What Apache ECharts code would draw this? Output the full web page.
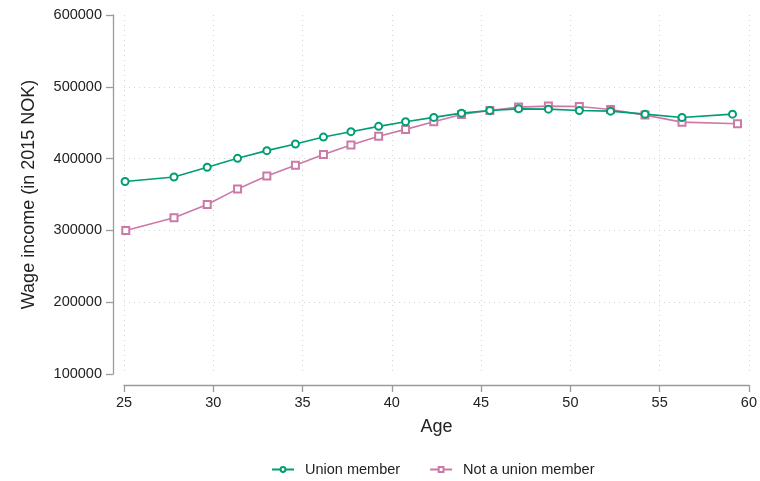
<!DOCTYPE html>
<html>
<head>
<meta charset="utf-8">
<script src="https://cdn.jsdelivr.net/npm/echarts@6/dist/echarts.min.js"></script>
<style>
html,body{margin:0;padding:0;background:#fff;}
#chart{width:760px;height:481px;}
</style>
</head>
<body>
<div id="chart"></div>
<script>
var seriesNames = ['Union member', 'Not a union member'];
var unionAge = [25.06, 27.8, 29.66, 31.36, 33.0, 34.6, 36.17, 37.71, 39.26, 40.77, 42.35, 43.9, 45.49, 47.1, 48.77, 50.5, 52.25, 54.18, 56.25, 59.08];
var unionWage = [368100, 374400, 387900, 400400, 411100, 420300, 430000, 437500, 444900, 451400, 457400, 463300, 467000, 469300, 468900, 467000, 466100, 461900, 457200, 461900];
var nonUnionAge = [25.1, 27.8, 29.66, 31.36, 33.0, 34.6, 36.17, 37.71, 39.26, 40.77, 42.35, 43.9, 45.49, 47.1, 48.77, 50.5, 52.25, 54.18, 56.25, 59.36];
var nonUnionWage = [300000, 317500, 336100, 357800, 375800, 390700, 405600, 418900, 431000, 440700, 451400, 461400, 467000, 471700, 473100, 472500, 468300, 460600, 450800, 448500];

function pairs(xs, ys) { return xs.map(function (x, i) { return [x, ys[i]]; }); }

var FONT = '"Liberation Sans", Arial, Helvetica, sans-serif';
var TXT = '#222222';
var AXIS = '#9a9a9a';
var GRID = '#d4d4d4';

var chart = echarts.init(document.getElementById('chart'), null, {renderer: 'canvas'});
chart.setOption({
  animation: false,
  backgroundColor: '#ffffff',
  textStyle: {fontFamily: FONT},
  grid: {left: 124, right: 11, top: 15, bottom: 107, containLabel: false},
  legend: {
    left: 266, top: 457,
    itemWidth: 22, itemHeight: 6, itemGap: 29,
    textStyle: {fontFamily: FONT, fontSize: 14.5, color: TXT, padding: [0, 0, 0, 6]},
    data: seriesNames
  },
  xAxis: {
    type: 'value', min: 25, max: 60, interval: 5,
    offset: 11,
    name: 'Age', nameLocation: 'middle', nameGap: 33,
    nameTextStyle: {fontFamily: FONT, fontSize: 18, color: TXT},
    axisLine: {show: true, lineStyle: {color: AXIS, width: 1.3}},
    axisTick: {show: true, length: 7, lineStyle: {color: AXIS, width: 1.3}},
    axisLabel: {margin: 10, fontFamily: FONT, fontSize: 14.5, color: TXT},
    splitLine: {show: true, lineStyle: {color: GRID, type: [1, 4], width: 1}}
  },
  yAxis: {
    type: 'value', min: 100000, max: 600000, interval: 100000,
    offset: 11,
    name: 'Wage income (in 2015 NOK)', nameLocation: 'middle', nameGap: 75, nameRotate: 90,
    nameTextStyle: {fontFamily: FONT, fontSize: 18, color: TXT},
    axisLine: {show: true, lineStyle: {color: AXIS, width: 1.3}},
    axisTick: {show: true, length: 7, lineStyle: {color: AXIS, width: 1.3}},
    axisLabel: {margin: 11, fontFamily: FONT, fontSize: 14.5, color: TXT,
      formatter: function (v) { return String(v); }},
    splitLine: {show: true, showMinLine: false, showMaxLine: false, lineStyle: {color: GRID, type: [1, 4], width: 1}}
  },
  series: [
    {
      name: seriesNames[0], type: 'line',
      data: pairs(unionAge, unionWage),
      symbol: 'emptyCircle', symbolSize: 7,
      lineStyle: {color: '#009E73', width: 1.6},
      itemStyle: {color: '#009E73', borderColor: '#009E73', borderWidth: 1.5},
      z: 3
    },
    {
      name: seriesNames[1], type: 'line',
      data: pairs(nonUnionAge, nonUnionWage),
      symbol: 'emptyRect', symbolSize: 7,
      lineStyle: {color: '#CC79A7', width: 1.6},
      itemStyle: {color: '#CC79A7', borderColor: '#CC79A7', borderWidth: 1.5},
      z: 2
    }
  ]
});
</script>
</body>
</html>
